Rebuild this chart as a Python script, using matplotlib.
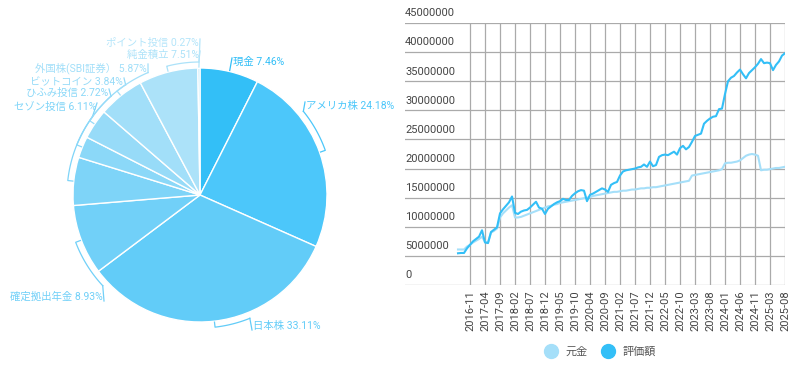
# Portfolio pie + principal/valuation line chart
import numpy as np
import pandas as pd
import matplotlib
matplotlib.use('Agg')
import matplotlib.pyplot as plt
from matplotlib.lines import Line2D

plt.rcParams['font.family'] = ['Roboto', 'Noto Sans CJK JP', 'DejaVu Sans']

# ---- Data ---- #
assets = ['現金', 'アメリカ株', '日本株', '確定拠出年金', 'セゾン投信', 'ひふみ投信',
          'ビットコイン', '外国株(SBI証券）', '純金積立', 'ポイント投信']
shares = [7.46, 24.18, 33.11, 8.93, 6.11, 2.72, 3.84, 5.87, 7.51, 0.27]
pie_colors = ['#33BFF7', '#4CC7FA', '#62CCF8', '#71D0F8', '#7ED4F8', '#8BD8F8',
              '#97DBF8', '#A2DFF9', '#ACE2F9', '#B4E5FA']

# values per record, million yen (2016-07 .. 2025-08, one record per month,
# 2020-01 missing, two records in 2025-01)
valuation = [5.45, 5.5, 5.5, 6.3, 6.9, 7.5, 7.9, 8.3, 9.4, 7.3,
             7.2, 9.1, 9.5, 9.9, 12.3, 13.0, 13.6, 14.2, 15.2, 12.4,
             12.2, 12.6, 12.8, 12.9, 13.3, 13.8, 14.3, 13.3, 13.1, 12.2,
             13.1, 13.5, 13.9, 14.2, 14.4, 14.8, 14.6, 14.6, 15.3, 15.75,
             16.1, 16.3, 16.2, 14.4, 15.5, 15.7, 16.0, 16.3, 16.6, 16.4,
             16.0, 17.2, 17.5, 17.7, 18.8, 19.5, 19.7, 19.8, 19.9, 20.0,
             20.2, 20.3, 20.7, 20.3, 21.2, 20.4, 20.6, 22.0, 22.3, 22.4,
             22.3, 22.6, 22.9, 22.4, 23.5, 23.9, 23.3, 23.7, 24.6, 25.6,
             25.8, 26.0, 27.7, 28.2, 28.6, 28.9, 29.0, 30.2, 30.3, 32.8,
             35.0, 35.6, 35.9, 36.5, 37.0, 36.2, 35.5, 36.4, 36.9, 37.4,
             38.0, 38.8, 38.1, 38.2, 38.1, 36.9, 37.8, 38.4, 39.4, 39.8]
principal = [6.1, 6.1, 6.1, 6.6, 6.9, 7.3, 7.6, 7.9, 8.3, 7.4,
             7.3, 9.0, 9.3, 9.7, 11.6, 12.3, 12.8, 13.3, 13.7, 11.6,
             11.6, 11.7, 11.9, 12.1, 12.3, 12.5, 12.7, 12.9, 13.1, 13.3,
             13.5, 13.6, 13.8, 13.9, 14.1, 14.2, 14.3, 14.4, 14.5, 14.6,
             14.7, 14.8, 14.9, 15.0, 15.1, 15.3, 15.4, 15.5, 15.6, 15.7,
             15.8, 15.9, 16.0, 16.0, 16.1, 16.2, 16.2, 16.3, 16.4, 16.4,
             16.5, 16.6, 16.6, 16.7, 16.7, 16.8, 16.8, 16.9, 17.0, 17.1,
             17.2, 17.3, 17.4, 17.5, 17.6, 17.7, 17.8, 17.9, 18.8, 18.9,
             19.0, 19.1, 19.2, 19.3, 19.4, 19.5, 19.6, 19.7, 19.9, 20.9,
             21.0, 21.0, 21.1, 21.2, 21.4, 21.8, 22.2, 22.4, 22.5, 22.4,
             22.2, 19.7, 19.8, 19.8, 19.9, 20.0, 20.1, 20.1, 20.2, 20.3]
months = pd.date_range('2016-07', '2025-08', freq='MS').strftime('%Y-%m').tolist()
months.remove('2020-01')
months.insert(months.index('2025-01'), '2025-01')
yticks = [0, 5000000, 10000000, 15000000, 20000000, 25000000, 30000000, 35000000, 40000000, 45000000]

fig = plt.figure(figsize=(8, 3.81), dpi=100)
H = 381

# ---- Pie (axes in pixel units, y up) ---- #
axp = fig.add_axes([0, 0, 0.5, 1])
cx, cy, R = 200, H - 195, 127
axp.pie(shares, colors=pie_colors, startangle=90, counterclock=False,
        center=(cx, cy), radius=R, wedgeprops=dict(edgecolor='white', linewidth=1))
axp.set_xlim(0, 400)
axp.set_ylim(0, H)
axp.set_aspect('auto')
axp.axis('off')

# label layout: end angle of arc (clockwise from top), text anchor (px, y down), side
label_layout = [
    (None, (232, 62), 'left'),
    (51, (305, 106), 'left'),
    (158, (252, 326), 'left'),
    (227, (104, 297), 'right'),
    (306, (97, 107), 'right'),
    (318, (109, 93), 'right'),
    (326, (124, 82), 'right'),
    (337, (148, 68), 'right'),
    (359.5, (200, 55), 'right'),
    (None, (200, 43), 'right'),
]

def pt(theta, r):
    t = np.radians(theta)
    return cx + r * np.sin(t), cy + r * np.cos(t)

cum = np.cumsum([0] + shares)
r_out = R + 6
for k, name in enumerate(assets):
    mid = (cum[k] + cum[k + 1]) / 2 * 3.6
    end, (lx, ly), side = label_layout[k]
    col = pie_colors[k]
    ly = H - ly
    if end is None:
        sx, sy = pt(mid, R + 1)
    else:
        th = np.linspace(mid, end, 40)
        ax_, ay_ = pt(th, r_out)
        bx, by = pt(mid, R + 1)
        axp.plot([bx] + list(ax_), [by] + list(ay_), color=col, lw=0.9)
        sx, sy = ax_[-1], ay_[-1]
    tx = lx + 1 if side == 'left' else lx - 1
    axp.plot([sx, lx], [sy, ly - 4 if ly < sy else ly + 4], color=col, lw=0.9)
    axp.text(tx, ly, f'{name} {shares[k]:.2f}%', color=col, fontsize=7.5,
             ha=side, va='center')

# ---- Line chart ---- #
ax = fig.add_axes([405 / 800, 96 / H, 380 / 800, 262 / H])
x = np.arange(len(months))
ax.plot(x, np.array(principal) * 1e6, color='#A5DFF9', lw=1.5, zorder=3)
ax.plot(x, np.array(valuation) * 1e6, color='#33BFF7', lw=1.5, zorder=4)

ax.set_xlim(-17.67, len(months) - 1)
ax.set_ylim(0, 45000000)
tick_idx = list(range(4, len(months), 5))
ax.set_xticks(tick_idx)
ax.set_xticklabels([months[i] for i in tick_idx], rotation=90, fontsize=8, color='#444444')
ax.set_yticks(yticks)
ax.set_yticklabels([])
ax.tick_params(length=0, pad=4)
ax.grid(True, color='#AAAAAA', lw=0.9)
ax.set_axisbelow(True)
for s in ax.spines.values():
    s.set_visible(False)
for v in yticks:
    ax.text(0.0, v + 800000, str(v), transform=ax.get_yaxis_transform(),
            fontsize=8, color='#444444', ha='left', va='bottom')

handles = [Line2D([], [], marker='o', ls='', markersize=10, color='#A5DFF9'),
           Line2D([], [], marker='o', ls='', markersize=10, color='#33BFF7')]
fig.legend(handles, ['元金', '評価額'], loc='center', bbox_to_anchor=(598 / 800, 1 - 352 / H),
           ncol=2, frameon=False, fontsize=8, handletextpad=0.3, columnspacing=0.8,
           labelcolor='#555555')

fig.savefig('out.png', dpi=100)
